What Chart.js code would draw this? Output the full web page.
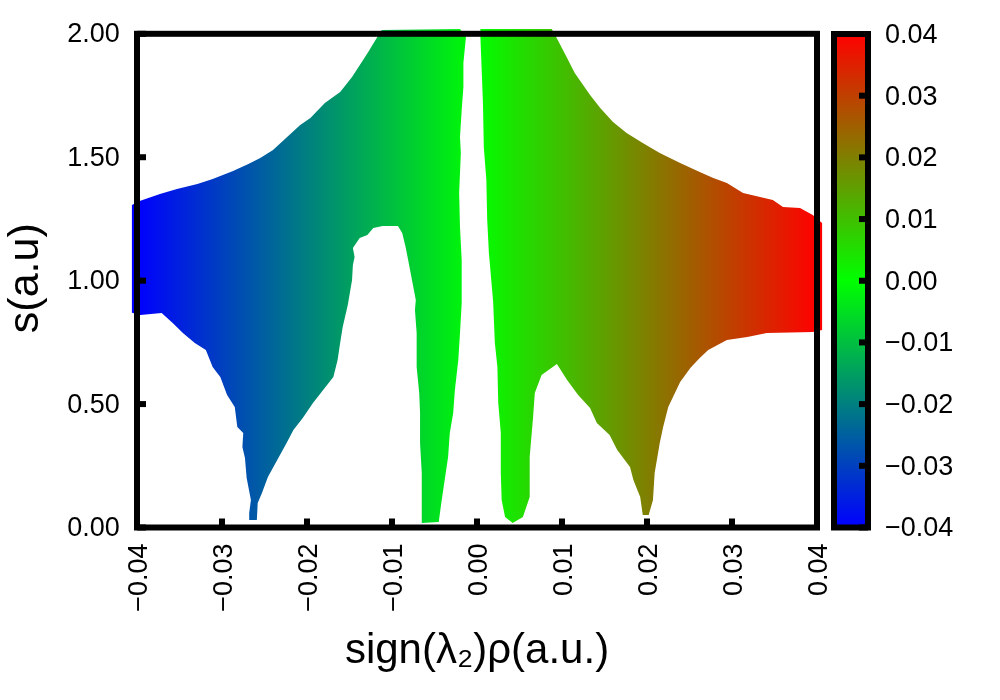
<!DOCTYPE html>
<html>
<head>
<meta charset="utf-8">
<title>RDG scatter</title>
<script src="https://cdn.jsdelivr.net/npm/chart.js@4/dist/chart.umd.min.js"></script>
<style>
html, body { margin: 0; padding: 0; background: #fff; }
canvas { position: absolute; left: 0; top: 0; }
</style>
</head>
<body>
<canvas id="mainChart" width="1000" height="700"></canvas>
<canvas id="barChart" width="1000" height="700"></canvas>
<script>
// outline of the cloud left of the gap
var leftX = [-0.0406,-0.0406,-0.0396,-0.0373,-0.0353,-0.0329,-0.0311,-0.0287,-0.0269,-0.0255,-0.0240,-0.0208,-0.0196,-0.0179,-0.0161,-0.0147,-0.0134,-0.0128,-0.0118,-0.0112,-0.0020,-0.0013,-0.0016,-0.0016,-0.0018,-0.0020,-0.0019,-0.0021,-0.0020,-0.0018,-0.0018,-0.0020,-0.0022,-0.0026,-0.0028,-0.0032,-0.0034,-0.0038,-0.0042,-0.0045,-0.0065,-0.0065,-0.0065,-0.0065,-0.0067,-0.0067,-0.0068,-0.0071,-0.0071,-0.0073,-0.0072,-0.0081,-0.0084,-0.0088,-0.0093,-0.0111,-0.0122,-0.0129,-0.0138,-0.0146,-0.0144,-0.0146,-0.0147,-0.0149,-0.0152,-0.0158,-0.0161,-0.0164,-0.0169,-0.0181,-0.0193,-0.0205,-0.0216,-0.0224,-0.0235,-0.0246,-0.0253,-0.0258,-0.0259,-0.0268,-0.0268,-0.0266,-0.0271,-0.0273,-0.0276,-0.0275,-0.0282,-0.0285,-0.0294,-0.0302,-0.0311,-0.0319,-0.0332,-0.0346,-0.0358,-0.0371,-0.0396,-0.0406];
var leftS = [0.870,1.306,1.324,1.351,1.371,1.392,1.412,1.444,1.473,1.497,1.529,1.631,1.659,1.720,1.764,1.825,1.894,1.926,1.983,2.015,2.019,1.987,1.882,1.784,1.691,1.582,1.517,1.355,1.217,1.084,0.909,0.788,0.679,0.557,0.464,0.383,0.286,0.192,0.099,0.022,0.018,0.063,0.124,0.221,0.342,0.464,0.545,0.650,0.788,0.881,0.922,1.084,1.136,1.193,1.221,1.221,1.213,1.185,1.173,1.132,1.096,1.063,1.003,0.962,0.901,0.812,0.747,0.679,0.610,0.557,0.504,0.444,0.395,0.342,0.273,0.205,0.140,0.099,0.030,0.030,0.059,0.111,0.201,0.282,0.326,0.383,0.407,0.488,0.537,0.610,0.650,0.719,0.747,0.788,0.828,0.869,0.861,0.870];

// outline of the cloud right of the gap
var rightX = [0.0004,0.0004,0.0007,0.0008,0.0011,0.0012,0.0014,0.0019,0.0021,0.0024,0.0025,0.0028,0.0028,0.0029,0.0033,0.0042,0.0054,0.0062,0.0062,0.0066,0.0068,0.0076,0.0094,0.0106,0.0119,0.0133,0.0141,0.0156,0.0165,0.0180,0.0184,0.0192,0.0195,0.0202,0.0207,0.0209,0.0215,0.0219,0.0225,0.0239,0.0251,0.0262,0.0272,0.0294,0.0318,0.0341,0.0395,0.0406,0.0406,0.0395,0.0380,0.0360,0.0348,0.0333,0.0313,0.0294,0.0278,0.0262,0.0239,0.0215,0.0195,0.0176,0.0160,0.0145,0.0133,0.0115,0.0106,0.0095,0.0088];
var rightS = [2.019,1.987,1.720,1.541,1.408,1.246,1.112,0.914,0.747,0.650,0.504,0.383,0.221,0.111,0.043,0.018,0.043,0.124,0.286,0.448,0.545,0.618,0.662,0.598,0.537,0.484,0.423,0.375,0.314,0.245,0.192,0.124,0.051,0.051,0.111,0.221,0.342,0.407,0.488,0.589,0.646,0.687,0.719,0.760,0.772,0.788,0.792,0.800,1.234,1.266,1.294,1.298,1.327,1.339,1.355,1.396,1.416,1.440,1.477,1.517,1.558,1.598,1.643,1.699,1.752,1.841,1.902,1.975,2.019];

var xTicks = [-0.04,-0.03,-0.02,-0.01,0,0.01,0.02,0.03,0.04];
var yTicks = [0,0.5,1,1.5,2];
var barTicks = [-0.04,-0.03,-0.02,-0.01,0,0.01,0.02,0.03,0.04];
var barRange = [[-0.04,0.04]];

var tickFont = { family: "'Liberation Sans'", size: 27 };

function minus(str) {
    return str.replace("-", "\u2212");
}

function addStops(g) {
    g.addColorStop(0, "#0000ff");
    g.addColorStop(0.5, "#00ff00");
    g.addColorStop(1, "#ff0000");
    return g;
}

// blue - green - red across the x range
function xGradient(context) {
    var chart = context.chart;
    var sx = chart.scales.x;
    if (!sx || !isFinite(sx.getPixelForValue(0))) return "#00ff00";
    return addStops(chart.ctx.createLinearGradient(sx.getPixelForValue(-0.04), 0, sx.getPixelForValue(0.04), 0));
}

function yGradient(context) {
    var chart = context.chart;
    var sy = chart.scales.y;
    if (!sy || !isFinite(sy.getPixelForValue(0))) return "#00ff00";
    return addStops(chart.ctx.createLinearGradient(0, sy.getPixelForValue(-0.04), 0, sy.getPixelForValue(0.04)));
}

// thick gnuplot style frame and inward ticks, on top of the data
var mainFrame = {
    id: "mainFrame",
    afterDatasetsDraw: function(chart) {
        var c = chart.ctx, sx = chart.scales.x, sy = chart.scales.y;
        var l = sx.getPixelForValue(-0.04), r = sx.getPixelForValue(0.04);
        var t = sy.getPixelForValue(2), b = sy.getPixelForValue(0);
        c.save();
        c.strokeStyle = "#000";
        c.lineWidth = 6;
        c.lineJoin = "miter";
        c.strokeRect(l, t, r - l, b - t);
        xTicks.forEach(function(v) {
            var p = sx.getPixelForValue(v);
            c.beginPath(); c.moveTo(p, b); c.lineTo(p, b - 9); c.stroke();
        });
        yTicks.forEach(function(v) {
            var p = sy.getPixelForValue(v);
            c.beginPath(); c.moveTo(l, p); c.lineTo(l + 9, p); c.stroke();
        });
        c.restore();
    }
};

var barFrame = {
    id: "barFrame",
    afterDatasetsDraw: function(chart) {
        var c = chart.ctx, sy = chart.scales.y, a = chart.chartArea;
        c.save();
        c.strokeStyle = "#000";
        c.lineWidth = 6;
        c.strokeRect(a.left, a.top, a.right - a.left, a.bottom - a.top);
        barTicks.forEach(function(v) {
            var p = sy.getPixelForValue(v);
            c.beginPath(); c.moveTo(a.right, p); c.lineTo(a.right - 9, p); c.stroke();
        });
        c.restore();
    }
};

function toPoints(xs, ys) {
    return xs.map(function(v, i) { return { x: v, y: ys[i] }; });
}

var ctx = document.getElementById("mainChart").getContext("2d");
var mainChart = new Chart(ctx, {
    type: "scatter",
    data: {
        datasets: [
            { data: toPoints(leftX, leftS), showLine: true, fill: "shape", borderWidth: 0, pointRadius: 0, tension: 0, backgroundColor: xGradient, clip: false },
            { data: toPoints(rightX, rightS), showLine: true, fill: "shape", borderWidth: 0, pointRadius: 0, tension: 0, backgroundColor: xGradient, clip: false }
        ]
    },
    options: {
        responsive: false,
        animation: false,
        layout: { padding: { top: 28.86, right: 172.8, left: 0, bottom: 0 } },
        plugins: { legend: { display: false }, tooltip: { enabled: false } },
        scales: {
            x: {
                type: "linear",
                min: -0.0412,
                max: 0.0412,
                grid: { display: false, drawTicks: false },
                border: { display: false },
                afterBuildTicks: function(scale) {
                    scale.ticks = xTicks.map(function(v) { return { value: v }; });
                },
                afterFit: function(scale) { scale.height = 172.5; },
                ticks: {
                    autoSkip: false, minRotation: 90, maxRotation: 90, padding: 16, labelOffset: 2.5,
                    color: "#000", font: tickFont,
                    callback: function(v) { return minus(v.toFixed(2)); }
                },
                title: { display: true, text: "sign(\u03bb\u2082)\u03c1(a.u.)", color: "#000", font: { family: "'Liberation Sans'", size: 42 }, padding: { top: 0, bottom: 23 } }
            },
            y: {
                type: "linear",
                min: 0,
                max: 2.02,
                grid: { display: false, drawTicks: false },
                border: { display: false },
                afterBuildTicks: function(scale) {
                    scale.ticks = yTicks.map(function(v) { return { value: v }; });
                },
                afterFit: function(scale) { scale.width = 126.8; },
                ticks: {
                    autoSkip: false, padding: 7, labelOffset: 1, color: "#000", font: tickFont,
                    callback: function(v) { return v.toFixed(2); }
                },
                title: { display: true, text: "s(a.u)", color: "#000", font: { family: "'Liberation Sans'", size: 43 }, padding: { top: 0, bottom: 8 } }
            }
        }
    },
    plugins: [mainFrame]
});

var barCtx = document.getElementById("barChart").getContext("2d");
var barChart = new Chart(barCtx, {
    type: "bar",
    data: {
        labels: [""],
        datasets: [{ data: barRange, backgroundColor: yGradient, barPercentage: 1, categoryPercentage: 1, borderWidth: 0, borderSkipped: false }]
    },
    options: {
        responsive: false,
        animation: false,
        layout: { padding: { top: 34, left: 834, right: 0, bottom: 172.5 } },
        plugins: { legend: { display: false }, tooltip: { enabled: false } },
        scales: {
            x: {
                grid: { display: false, drawTicks: false },
                border: { display: false },
                ticks: { display: false }
            },
            y: {
                position: "right",
                min: -0.04,
                max: 0.04,
                grid: { display: false, drawTicks: false },
                border: { display: false },
                afterBuildTicks: function(scale) {
                    scale.ticks = barTicks.map(function(v) { return { value: v }; });
                },
                afterFit: function(scale) { scale.width = 132; },
                ticks: {
                    autoSkip: false, padding: 17, labelOffset: 1.5, color: "#000", font: tickFont,
                    callback: function(v) { return minus(v.toFixed(2)); }
                }
            }
        }
    },
    plugins: [barFrame]
});
</script>
</body>
</html>
